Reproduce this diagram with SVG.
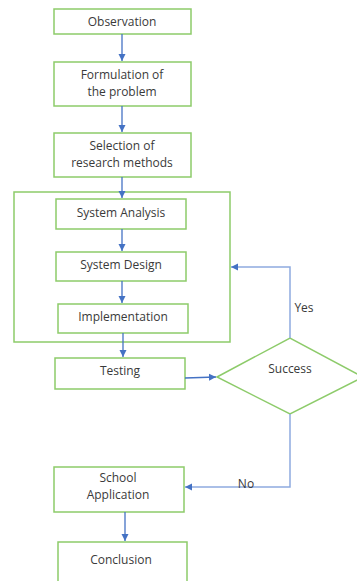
<svg xmlns="http://www.w3.org/2000/svg" width="357" height="581" viewBox="0 0 357 581">
<style>
.box{fill:#fff;stroke:#8dcb6a;stroke-width:1.5}
.t{font-family:"Open Sans","Liberation Sans",sans-serif;font-size:12px;fill:#3a3a3a;text-anchor:middle}
.c{fill:none;stroke:#4472c4;stroke-width:1.3}
.c2{fill:none;stroke:#8eaadf;stroke-width:1.5}
</style>
<defs>
<marker id="ah" markerWidth="8" markerHeight="8" refX="7" refY="4" orient="auto" markerUnits="userSpaceOnUse">
<path d="M0,0.5 L7,4 L0,7.5 Z" fill="#4472c4"/>
</marker>
</defs>
<rect width="357" height="581" fill="#fff"/>
<g id="loop">
<rect class="box" x="14" y="192" width="216" height="150"/>
</g>
<g id="observation"><rect class="box" x="54" y="9" width="137" height="25"/><text class="t" x="122" y="26">Observation</text></g>
<g id="formulation"><rect class="box" x="54" y="62" width="137" height="44"/><text class="t" x="122" y="79">Formulation of</text><text class="t" x="122" y="96">the problem</text></g>
<g id="selection"><rect class="box" x="54" y="133" width="137" height="44"/><text class="t" x="122" y="150">Selection of</text><text class="t" x="122" y="167">research methods</text></g>
<g id="analysis"><rect class="box" x="56" y="199" width="130" height="30"/><text class="t" x="121" y="217">System Analysis</text></g>
<g id="design"><rect class="box" x="56" y="252" width="130" height="29"/><text class="t" x="121" y="269">System Design</text></g>
<g id="implementation"><rect class="box" x="58" y="304" width="130" height="29"/><text class="t" x="123" y="321">Implementation</text></g>
<g id="testing"><rect class="box" x="55" y="358" width="130" height="31"/><text class="t" x="120" y="375">Testing</text></g>
<g id="success"><path class="box" d="M217,377 L290,338 L363,377 L290,414 Z"/><text class="t" x="290" y="373">Success</text></g>
<g id="school"><rect class="box" x="54" y="467" width="130" height="45"/><text class="t" x="118" y="482">School</text><text class="t" x="118" y="499">Application</text></g>
<g id="conclusion"><rect class="box" x="58" y="542" width="129" height="50"/><text class="t" x="121" y="564">Conclusion</text></g>
<g id="connectors">
<path class="c" d="M122,34 V61" marker-end="url(#ah)"/>
<path class="c" d="M122,106 V132" marker-end="url(#ah)"/>
<path class="c" d="M122,177 V198" marker-end="url(#ah)"/>
<path class="c" d="M122,229 V251" marker-end="url(#ah)"/>
<path class="c" d="M122,281 V303" marker-end="url(#ah)"/>
<path class="c" d="M123,333 V357" marker-end="url(#ah)"/>
<path class="c" d="M185,378 L216,377" marker-end="url(#ah)"/>
<path class="c2" d="M290,338 V267 H231" marker-end="url(#ah)"/>
<path class="c2" d="M290,414 V487 H185" marker-end="url(#ah)"/>
<path class="c" d="M125,512 V541" marker-end="url(#ah)"/>
<text class="t" x="304" y="312">Yes</text>
<text class="t" x="246" y="488">No</text>
</g>
</svg>
